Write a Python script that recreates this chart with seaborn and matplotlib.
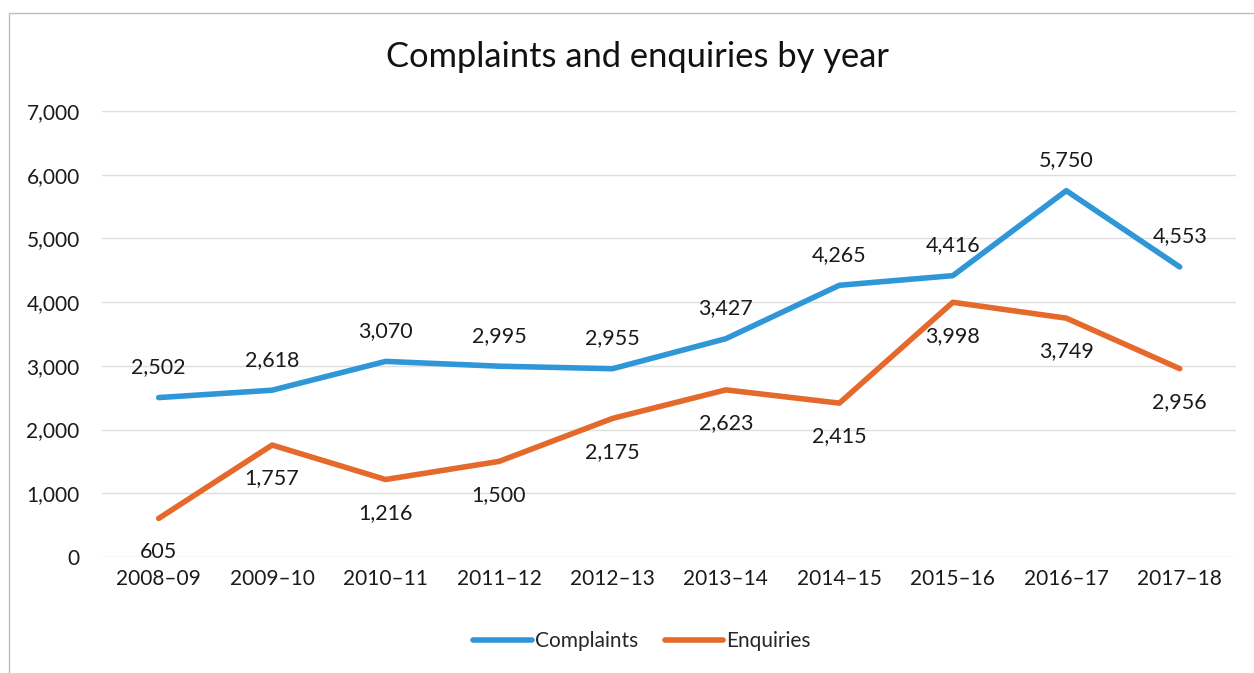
import matplotlib
matplotlib.use("Agg")
import matplotlib.pyplot as plt
import seaborn as sns
import pandas as pd
from matplotlib.patches import Rectangle
from matplotlib.lines import Line2D

years = ["2008–09", "2009–10", "2010–11", "2011–12", "2012–13",
         "2013–14", "2014–15", "2015–16", "2016–17", "2017–18"]
complaints = [2502, 2618, 3070, 2995, 2955, 3427, 4265, 4416, 5750, 4553]
enquiries = [605, 1757, 1216, 1500, 2175, 2623, 2415, 3998, 3749, 2956]

df = pd.DataFrame({
    "year": years * 2,
    "value": complaints + enquiries,
    "series": ["Complaints"] * len(years) + ["Enquiries"] * len(years),
})

sns.set_theme(style="white")
plt.rcParams["font.family"] = ["Lato", "DejaVu Sans"]

fig = plt.figure(figsize=(12.54, 6.73), dpi=100)
ax = fig.add_axes([0.0813, 0.1724, 0.9047, 0.6626])

palette = {"Complaints": "#2f96d8", "Enquiries": "#e4692b"}
sns.lineplot(data=df, x="year", y="value", hue="series", palette=palette,
             linewidth=4, ax=ax, sort=False, legend=False)

ax.set_xlim(-0.5, len(years) - 0.5)
ax.set_ylim(0, 7000)
ax.set_yticks(range(0, 7001, 1000))
ax.yaxis.set_major_formatter(matplotlib.ticker.FuncFormatter(lambda v, p: f"{int(v):,}"))
ax.grid(axis="y", color="#dedede", linewidth=1)
ax.set_axisbelow(True)
for s in ax.spines.values():
    s.set_visible(False)
ax.tick_params(axis="both", length=0, labelsize=15, colors="#1a1a1a")
ax.tick_params(axis="x", pad=9)
ax.tick_params(axis="y", pad=16)
ax.set_xlabel("")
ax.set_ylabel("")

for i, v in enumerate(complaints):
    ax.annotate(f"{v:,}", (i, v), xytext=(0, 22), textcoords="offset points",
                ha="center", va="center", fontsize=15.5, color="#1a1a1a")
for i, v in enumerate(enquiries):
    ax.annotate(f"{v:,}", (i, v), xytext=(0, -24), textcoords="offset points",
                ha="center", va="center", fontsize=15.5, color="#1a1a1a")

fig.text(0.508, 0.915, "Complaints and enquiries by year", ha="center", va="center",
         fontsize=24.8, color="#111111")

handles = [Line2D([0], [0], color=palette["Complaints"], lw=4),
           Line2D([0], [0], color=palette["Enquiries"], lw=4)]
fig.legend(handles, ["Complaints", "Enquiries"], loc="center", bbox_to_anchor=(0.512, 0.047),
           ncol=2, frameon=False, fontsize=15, handlelength=2.8, handletextpad=0.15,
           columnspacing=1.3)

fig.add_artist(Rectangle((0.007, -0.01), 1.0, 0.99, transform=fig.transFigure,
                         fill=False, edgecolor="#bdbdbd", linewidth=1))

fig.savefig("out.png", dpi=100)
